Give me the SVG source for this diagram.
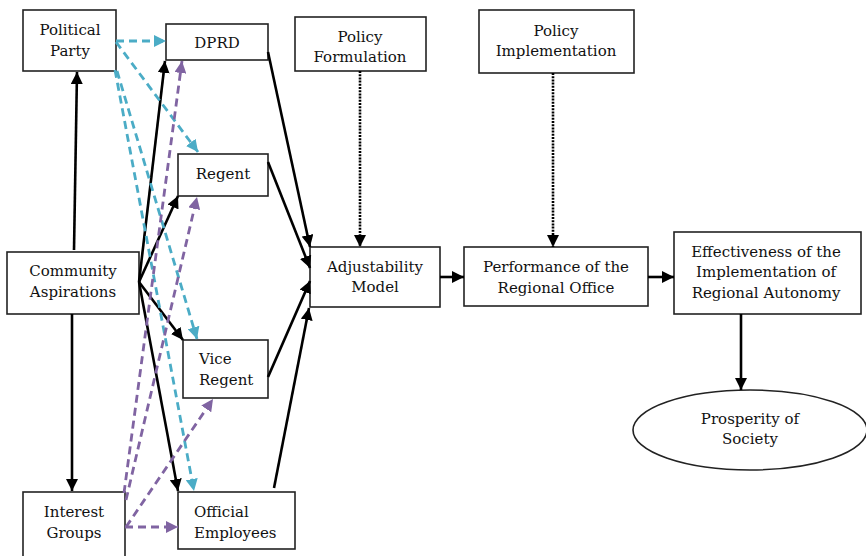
<svg xmlns="http://www.w3.org/2000/svg" width="866" height="556" viewBox="0 0 866 556">
<style>
.box{fill:#fff;stroke:#222;stroke-width:1.6}
text{font-family:"DejaVu Serif","Liberation Serif",serif;font-size:15px;fill:#111}
.c{text-anchor:middle}
.s{stroke:#000;stroke-width:2.6;fill:none;marker-end:url(#ab)}
.d{stroke:#000;stroke-width:2.6;fill:none;stroke-dasharray:2 1.2;marker-end:url(#ab)}
.cy{stroke:#4BACC6;stroke-width:2.8;fill:none;stroke-dasharray:8 5;marker-end:url(#ac)}
.pu{stroke:#8064A2;stroke-width:2.8;fill:none;stroke-dasharray:8 5;marker-end:url(#ap)}
</style>
<defs>
<marker id="ab" markerUnits="userSpaceOnUse" markerWidth="13" markerHeight="12" refX="12" refY="6" orient="auto"><path d="M0,0 L12,6 L0,12 z" fill="#000"/></marker>
<marker id="ac" markerUnits="userSpaceOnUse" markerWidth="13" markerHeight="12" refX="12" refY="6" orient="auto"><path d="M0,0 L12,6 L0,12 z" fill="#4BACC6"/></marker>
<marker id="ap" markerUnits="userSpaceOnUse" markerWidth="13" markerHeight="12" refX="12" refY="6" orient="auto"><path d="M0,0 L12,6 L0,12 z" fill="#8064A2"/></marker>
</defs>
<rect width="866" height="556" fill="#fff"/>
<g id="political-party"><rect class="box" x="23" y="10" width="93" height="61"/><text class="c" x="70" y="35">Political</text><text class="c" x="70" y="56">Party</text></g>
<g id="dprd"><rect class="box" x="166" y="24" width="102" height="36"/><text class="c" x="217" y="48">DPRD</text></g>
<g id="regent"><rect class="box" x="178" y="154" width="90" height="42"/><text class="c" x="223" y="179">Regent</text></g>
<g id="community-aspirations"><rect class="box" x="7" y="252" width="132" height="62"/><text class="c" x="73" y="276">Community</text><text class="c" x="73" y="297">Aspirations</text></g>
<g id="vice-regent"><rect class="box" x="183" y="340" width="85" height="58"/><text x="199" y="364">Vice</text><text x="199" y="385">Regent</text></g>
<g id="interest-groups"><rect class="box" x="23" y="492" width="102" height="72"/><text class="c" x="74" y="517">Interest</text><text class="c" x="74" y="538">Groups</text></g>
<g id="official-employees"><rect class="box" x="178" y="492" width="117" height="57"/><text x="194" y="517">Official</text><text x="194" y="538">Employees</text></g>
<g id="policy-formulation"><rect class="box" x="295" y="17" width="131" height="54"/><text class="c" x="360" y="42">Policy</text><text class="c" x="360" y="62">Formulation</text></g>
<g id="policy-implementation"><rect class="box" x="479" y="10" width="155" height="63"/><text class="c" x="556" y="36">Policy</text><text class="c" x="556" y="56">Implementation</text></g>
<g id="adjustability-model"><rect class="box" x="310" y="247" width="130" height="60"/><text class="c" x="375" y="272">Adjustability</text><text class="c" x="375" y="292">Model</text></g>
<g id="performance"><rect class="box" x="464" y="247" width="184" height="59"/><text class="c" x="556" y="272">Performance of the</text><text class="c" x="556" y="293">Regional Office</text></g>
<g id="effectiveness"><rect class="box" x="674" y="232" width="187" height="82"/><text class="c" x="766" y="257">Effectiveness of the</text><text class="c" x="766" y="277">Implementation of</text><text class="c" x="766" y="298">Regional Autonomy</text></g>
<g id="prosperity"><ellipse class="box" cx="750" cy="430" rx="117" ry="40"/><text class="c" x="750" y="424">Prosperity of</text><text class="c" x="750" y="444">Society</text></g>
<g id="connectors">
<path class="s" d="M74,250 L77,72"/>
<path class="s" d="M72,314 L72,491"/>
<path class="s" d="M139,282 L165,61"/>
<path class="s" d="M139,282 L178,196"/>
<path class="s" d="M139,282 L183,340"/>
<path class="s" d="M139,282 L178,491"/>
<path class="s" d="M268,52 L310,247"/>
<path class="s" d="M268,162 L310,268"/>
<path class="s" d="M268,377 L310,281"/>
<path class="s" d="M274,488 L309,308"/>
<path class="s" d="M440,277 L464,277"/>
<path class="s" d="M648,277 L674,277"/>
<path class="s" d="M741,314 L741,390"/>
<path class="d" d="M360,71 L360,247"/>
<path class="d" d="M553,73 L553,247"/>
<path class="cy" d="M116,41 L166,41"/>
<path class="cy" d="M116,42 L198,152"/>
<path class="cy" d="M117,71 L197,339"/>
<path class="cy" d="M115,70 L194,491"/>
<path class="pu" d="M125,527 L178,527"/>
<path class="pu" d="M126,527 L213,399"/>
<path class="pu" d="M124,493 L182,61"/>
<path class="pu" d="M126,500 L197,197"/>
</g>
</svg>
